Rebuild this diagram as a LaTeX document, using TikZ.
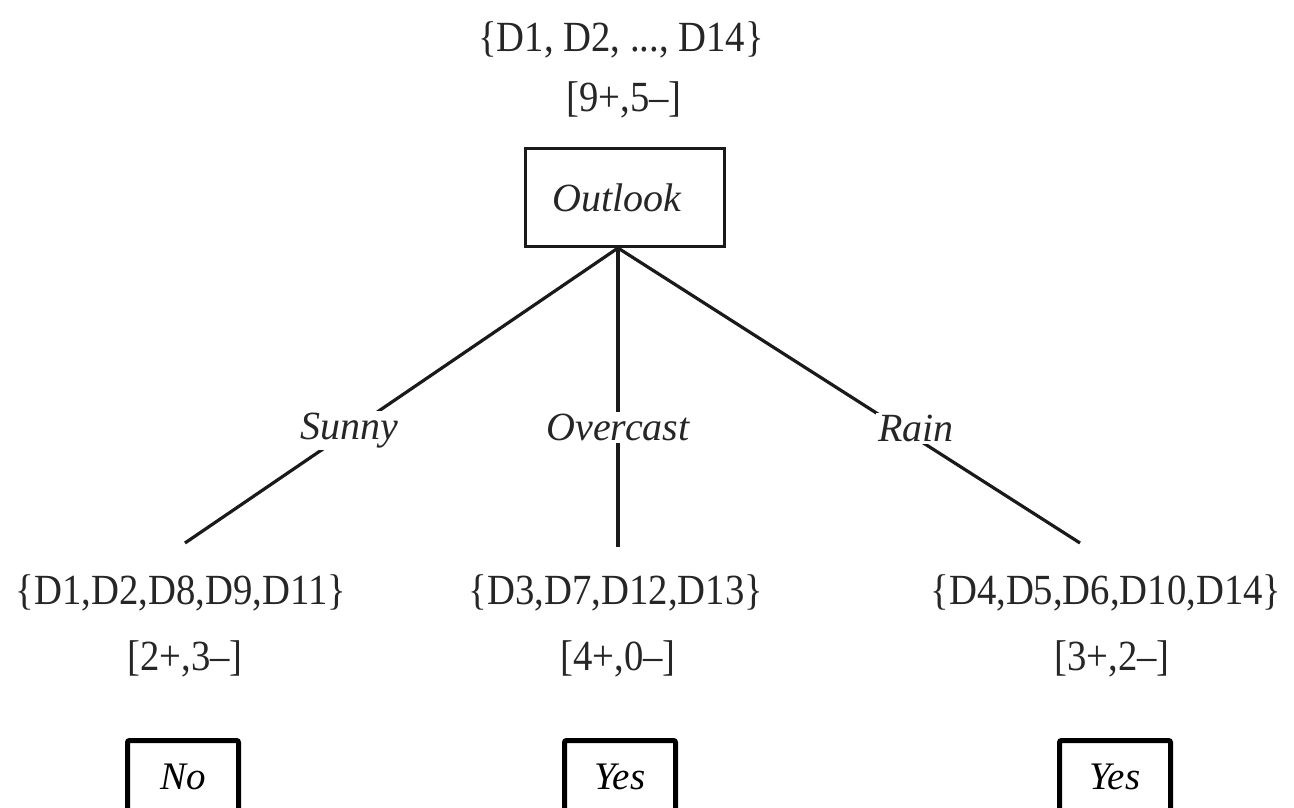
\documentclass[tikz,border=0pt]{standalone}
\usepackage{fontspec}
\setmainfont{Liberation Serif}
\newfontfamily\scanfont[FakeStretch=0.9]{Liberation Serif}
\definecolor{scan}{HTML}{262626}
\definecolor{linec}{HTML}{1A1A1A}
\begin{document}
\begin{tikzpicture}[x=1pt,y=-1pt,
  txt/.style={font=\scanfont\fontsize{43}{50}\selectfont, text=scan, inner sep=0pt},
  lab/.style={font=\fontsize{40}{47}\selectfont\itshape, text=scan, fill=white, inner sep=2pt},
  rootbox/.style={draw=linec, line width=3pt, minimum width=199pt, minimum height=98pt, inner sep=0pt, text=scan, font=\fontsize{40}{47}\selectfont\itshape},
  leafbox/.style={draw=black, line width=5pt, rounded corners=2pt, minimum width=111pt, minimum height=73pt, inner sep=0pt, font=\fontsize{39}{47}\selectfont\itshape},
  branch/.style={draw=linec, line width=3.2pt}]
\useasboundingbox (0,0) rectangle (1294,808);
% root
\node[txt, anchor=base] (all) at (621,52) {\{D1, D2, ..., D14\}};
\node[txt, anchor=base] (cnt) at (624,111) {[9+,5–]};
\node[rootbox] (root) at (625,197.5) {\raisebox{-3pt}{Outlook}\hspace*{16pt}};
% branch ends
\coordinate (e1) at (185,543);
\coordinate (e2) at (618,547);
\coordinate (e3) at (1080,543);
\coordinate (apex) at ([xshift=-7pt]root.south);
\draw[branch] (apex) -- node[lab, pos=0.62] (sunny) {Sunny} (e1);
\draw[branch] (apex) -- node[lab, pos=0.6] (overcast) {Overcast} (e2);
\draw[branch] (apex) -- node[lab, pos=0.645, yshift=10pt] (rain) {Rain} (e3);
% children
\node[txt, anchor=base] (s1) at (181,604) {\{D1,D2,D8,D9,D11\}};
\node[txt, anchor=base] (s2) at (616,604) {\{D3,D7,D12,D13\}};
\node[txt, anchor=base] (s3) at (1106,604) {\{D4,D5,D6,D10,D14\}};
\node[txt, anchor=base] (n1) at (185,670) {[2+,3–]};
\node[txt, anchor=base] (n2) at (618,670) {[4+,0–]};
\node[txt, anchor=base] (n3) at (1112,670) {[3+,2–]};
% leaves
\node[leafbox] (l1) at (183,777) {No};
\node[leafbox] (l2) at (620,777) {Yes};
\node[leafbox] (l3) at (1115,777) {Yes};
\end{tikzpicture}
\end{document}
